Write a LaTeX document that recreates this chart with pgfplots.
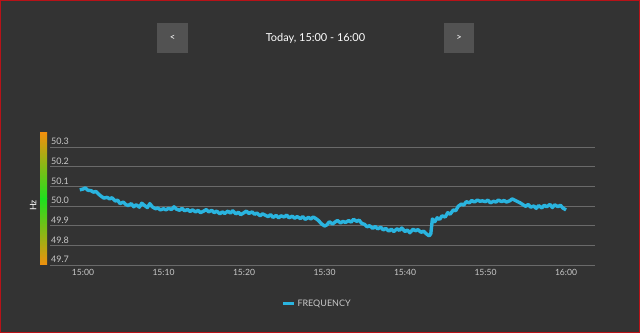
\documentclass[border=0pt]{standalone}
\usepackage{pgfplots}
\pgfplotsset{compat=1.18}
\usepackage{fontspec}
\setmainfont{Lato}
\definecolor{bg}{HTML}{333333}
\definecolor{btn}{HTML}{525252}
\definecolor{gridc}{HTML}{6A6A6A}
\definecolor{tickc}{HTML}{C8C8C8}
\definecolor{freq}{HTML}{2AB4DF}
\definecolor{orangebar}{HTML}{F0900E}
\definecolor{greenbar}{HTML}{1EE01E}
\definecolor{redb}{HTML}{B81218}
\begin{document}
\begin{tikzpicture}
\fill[bg] (0,0) rectangle (640bp,333bp);
\draw[redb,line width=1.2bp] (0.6bp,0.6bp) rectangle (639.4bp,332.4bp);
% header
\fill[btn] (157bp,280bp) rectangle (188bp,310bp);
\fill[btn] (444bp,280bp) rectangle (474bp,310bp);
\node[white,font=\fontsize{9.5}{11}\selectfont] at (172.5bp,295bp) {<};
\node[white,font=\fontsize{9.5}{11}\selectfont] at (459bp,295bp) {>};
\node[white,font=\fontsize{11}{13}\selectfont] at (315.5bp,295bp) {Today, 15:00 - 16:00};
% colour bar
\shade[top color=orangebar,bottom color=greenbar] (40bp,134bp) rectangle (47bp,200bp);
\shade[top color=greenbar,bottom color=orangebar] (40bp,68bp) rectangle (47bp,134bp);
\begin{axis}[
  at={(50bp,68bp)}, anchor=south west,
  scale only axis, width=545bp, height=132bp,
  xmin=-4.1, xmax=63.6, ymin=49.7, ymax=50.371,
  axis lines*=left, axis line style={draw=none},
  major tick length=0pt,
  ymajorgrids, grid style={gridc,line width=0.8bp},
  ytick={49.7,49.8,49.9,50.0,50.1,50.2,50.3},
  yticklabels={49.7,49.8,49.9,50.0,50.1,50.2,50.3},
  yticklabel style={anchor=south west,inner sep=0pt,xshift=1bp,yshift=2bp,tickc,font=\fontsize{9}{10}\selectfont},
  xtick={0,10,20,30,40,50,60},
  xticklabels={15:00,15:10,15:20,15:30,15:40,15:50,16:00},
  xticklabel style={tickc,font=\fontsize{8.6}{10}\selectfont,yshift=-1bp},
  ylabel={Hz}, ylabel style={white,font=\fontsize{9}{10}\selectfont,at={(axis description cs:-0.031,0.45)},anchor=center},
  legend style={at={(0.49,-0.295)},anchor=center,draw=none,fill=none,text=tickc,font=\fontsize{9}{10}\selectfont},
  legend image code/.code={\draw[#1,line width=3bp] (0bp,0bp) -- (11bp,0bp);},
]
\addplot[freq,line width=3.4bp,line join=round] coordinates {
(-0.4,50.082)(0.0,50.086)(0.3,50.092)(0.6,50.080)(1.0,50.078)(1.3,50.070)(1.6,50.074)
(2.0,50.058)(2.3,50.048)(2.6,50.040)(3.0,50.044)(3.3,50.036)(3.6,50.042)(4.0,50.025)
(4.3,50.030)(4.6,50.012)(5.0,50.020)(5.3,50.008)(5.6,50.002)(6.0,50.012)(6.3,49.996)
(6.6,50.006)(7.0,49.994)(7.3,50.014)(7.6,50.004)(8.0,49.992)(8.3,50.012)(8.6,49.996)
(9.0,49.986)(9.3,49.990)(9.6,49.980)(10.0,49.986)(10.3,49.980)(10.6,49.988)(11.0,49.982)
(11.3,49.996)(11.6,49.984)(12.0,49.978)(12.3,49.988)(12.6,49.976)(13.0,49.982)(13.3,49.972)
(13.6,49.980)(14.0,49.970)(14.3,49.978)(14.6,49.966)(15.0,49.974)(15.3,49.982)(15.6,49.970)
(16.0,49.978)(16.3,49.966)(16.6,49.974)(17.0,49.960)(17.3,49.970)(17.6,49.962)(18.0,49.974)
(18.3,49.964)(18.6,49.976)(19.0,49.960)(19.3,49.968)(19.6,49.956)(20.0,49.966)(20.3,49.974)
(20.6,49.962)(21.0,49.970)(21.3,49.958)(21.6,49.964)(22.0,49.950)(22.3,49.960)(22.6,49.954)
(23.0,49.946)(23.3,49.956)(23.6,49.942)(24.0,49.952)(24.3,49.940)(24.6,49.950)(25.0,49.944)
(25.3,49.954)(25.6,49.940)(26.0,49.948)(26.3,49.938)(26.6,49.946)(27.0,49.936)(27.3,49.946)
(27.6,49.932)(28.0,49.942)(28.3,49.934)(28.6,49.944)(29.0,49.934)(29.3,49.924)(29.6,49.910)
(30.0,49.898)(30.3,49.904)(30.6,49.920)(31.0,49.908)(31.3,49.918)(31.6,49.926)(32.0,49.914)
(32.3,49.922)(32.6,49.916)(33.0,49.926)(33.3,49.918)(33.6,49.932)(34.0,49.922)(34.3,49.928)
(34.6,49.912)(35.0,49.906)(35.3,49.894)(35.6,49.900)(36.0,49.886)(36.3,49.896)(36.6,49.884)
(37.0,49.892)(37.3,49.878)(37.6,49.886)(38.0,49.872)(38.3,49.882)(38.6,49.870)(39.0,49.884)
(39.3,49.876)(39.6,49.888)(40.0,49.870)(40.3,49.878)(40.6,49.864)(41.0,49.882)(41.3,49.874)
(41.6,49.880)(42.0,49.866)(42.3,49.872)(42.6,49.860)(43.0,49.848)(43.2,49.858)(43.4,49.934)
(43.7,49.920)(44.0,49.940)(44.3,49.932)(44.6,49.950)(45.0,49.944)(45.3,49.966)(45.6,49.958)
(46.0,49.980)(46.3,49.976)(46.6,49.998)(47.0,50.010)(47.3,50.004)(47.6,50.022)(48.0,50.016)
(48.3,50.028)(48.6,50.020)(49.0,50.030)(49.3,50.024)(49.6,50.026)(50.0,50.022)(50.3,50.030)
(50.6,50.016)(51.0,50.024)(51.3,50.020)(51.6,50.030)(52.0,50.022)(52.3,50.028)(52.6,50.020)
(53.0,50.026)(53.3,50.036)(53.6,50.030)(54.0,50.022)(54.3,50.016)(54.6,50.008)(55.0,49.998)
(55.3,50.008)(55.6,49.994)(56.0,50.000)(56.3,49.988)(56.6,50.002)(57.0,49.990)(57.3,50.004)
(57.6,49.996)(58.0,50.008)(58.3,49.992)(58.6,50.006)(59.0,49.996)(59.3,50.004)(59.6,49.990)
(60.0,49.980)
};
\addlegendentry{FREQUENCY}
\end{axis}
\pgfresetboundingbox
\path[use as bounding box] (0,0) rectangle (640bp,333bp);
\end{tikzpicture}
\end{document}
